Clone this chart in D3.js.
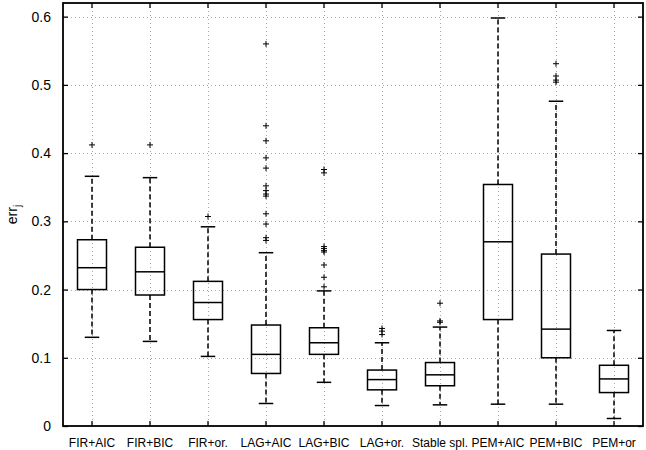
<!DOCTYPE html>
<html>
<head>
<meta charset="utf-8">
<script src="https://cdn.jsdelivr.net/npm/d3@7"></script>
<style>
  body { margin: 0; background: #fff; }
  svg { display: block; font-family: "Liberation Sans", Arial, Helvetica, sans-serif; }
</style>
</head>
<body>
<svg></svg>
<script>
let categories = ['FIR+AIC', 'FIR+BIC', 'FIR+or.', 'LAG+AIC', 'LAG+BIC', 'LAG+or.', 'Stable spl.', 'PEM+AIC', 'PEM+BIC', 'PEM+or'];
let whiskerLow  = [0.130, 0.124, 0.102, 0.033, 0.064, 0.030, 0.031, 0.032, 0.032, 0.011];
let q1          = [0.200, 0.192, 0.156, 0.077, 0.105, 0.053, 0.059, 0.156, 0.100, 0.049];
let medians     = [0.232, 0.226, 0.181, 0.105, 0.122, 0.068, 0.075, 0.270, 0.142, 0.069];
let q3          = [0.273, 0.262, 0.212, 0.148, 0.144, 0.082, 0.093, 0.354, 0.252, 0.089];
let whiskerHigh = [0.366, 0.364, 0.292, 0.254, 0.198, 0.122, 0.145, 0.598, 0.476, 0.140];
let outliers = [
    [0.412],
    [0.412],
    [0.307],
    [0.560, 0.440, 0.418, 0.393, 0.378, 0.352, 0.345, 0.340, 0.337, 0.311, 0.296, 0.276, 0.272],
    [0.376, 0.371, 0.263, 0.260, 0.257, 0.255, 0.236, 0.218, 0.204],
    [0.143, 0.139, 0.134],
    [0.180, 0.154, 0.152],
    [],
    [0.531, 0.513, 0.507, 0.504],
    []
];
let yTicks = [0, 0.1, 0.2, 0.3, 0.4, 0.5, 0.6];

let width = 646;
let height = 450;
let padLeft = 63, padRight = 643, padTop = 3, padBottom = 426;

let data = categories.map((c, i) => ({
    name: c, lo: whiskerLow[i], q1: q1[i], med: medians[i],
    q3: q3[i], hi: whiskerHigh[i], out: outliers[i]
}));

let xScale = d3.scaleBand()
    .domain(categories)
    .range([padLeft, padRight])
    .padding(0);

let yScale = d3.scaleLinear()
    .domain([0, 0.62])
    .range([padBottom, padTop]);

let svg = d3.select('svg')
    .attr('width', width)
    .attr('height', height);

let cx = d => xScale(d) + xScale.bandwidth() / 2;

// dotted grid
let grid = svg.append('g').attr('stroke', '#a8a8a8').attr('stroke-width', 1).attr('stroke-dasharray', '1,3');
grid.selectAll('.gy')
    .data(yTicks.filter(t => t > 0))
    .enter()
    .append('line')
        .attr('x1', padLeft).attr('x2', padRight)
        .attr('y1', d => Math.round(yScale(d)) + 0.5)
        .attr('y2', d => Math.round(yScale(d)) + 0.5);
grid.selectAll('.gx')
    .data(categories)
    .enter()
    .append('line')
        .attr('x1', d => Math.round(cx(d)) + 0.5)
        .attr('x2', d => Math.round(cx(d)) + 0.5)
        .attr('y1', padTop).attr('y2', padBottom);

// axes with inward ticks
let xAxis = d3.axisBottom(xScale).tickSizeInner(-5).tickSizeOuter(0).tickPadding(12);
let yAxis = d3.axisLeft(yScale).tickValues(yTicks).tickFormat(d3.format('')).tickSizeInner(-5).tickSizeOuter(0).tickPadding(12);
let xTop = d3.axisTop(xScale).tickSizeInner(-5).tickSizeOuter(0).tickFormat('');
let yRight = d3.axisRight(yScale).tickValues(yTicks).tickSizeInner(-5).tickSizeOuter(0).tickFormat('');

svg.append('g')
    .attr('transform', `translate(0, ${padBottom})`)
    .call(xAxis)
    .call(g => g.selectAll('text').attr('font-size', 12).attr('fill', '#000'));

svg.append('g')
    .attr('transform', `translate(${padLeft}, 0)`)
    .call(yAxis)
    .call(g => g.selectAll('text').attr('font-size', 14).attr('fill', '#000'));

svg.append('g').attr('transform', `translate(0, ${padTop})`).call(xTop);
svg.append('g').attr('transform', `translate(${padRight}, 0)`).call(yRight);

svg.selectAll('.domain').remove();
svg.selectAll('.tick line').attr('stroke', '#000').attr('stroke-width', 1.3);

svg.append('rect')
    .attr('x', padLeft).attr('y', padTop)
    .attr('width', padRight - padLeft).attr('height', padBottom - padTop)
    .attr('fill', 'none')
    .attr('stroke', '#000')
    .attr('stroke-width', 1.8);

// boxes
let boxW = xScale.bandwidth() * 0.5;
let capW = xScale.bandwidth() * 0.25;
let boxes = svg.selectAll('.box')
    .data(data)
    .enter()
    .append('g')
        .attr('transform', d => `translate(${cx(d.name)}, 0)`);

boxes.append('line')
    .attr('y1', d => yScale(d.q3)).attr('y2', d => yScale(d.hi))
    .attr('stroke', '#000').attr('stroke-width', 1.5).attr('stroke-dasharray', '5,3');
boxes.append('line')
    .attr('y1', d => yScale(d.q1)).attr('y2', d => yScale(d.lo))
    .attr('stroke', '#000').attr('stroke-width', 1.5).attr('stroke-dasharray', '5,3');

boxes.selectAll('.cap')
    .data(d => [d.lo, d.hi])
    .enter()
    .append('line')
        .attr('x1', -capW / 2).attr('x2', capW / 2)
        .attr('y1', d => yScale(d)).attr('y2', d => yScale(d))
        .attr('stroke', '#000').attr('stroke-width', 1.5);

boxes.append('rect')
    .attr('x', -boxW / 2)
    .attr('y', d => yScale(d.q3))
    .attr('width', boxW)
    .attr('height', d => yScale(d.q1) - yScale(d.q3))
    .attr('fill', 'none')
    .attr('stroke', '#000')
    .attr('stroke-width', 1.5);

boxes.append('line')
    .attr('x1', -boxW / 2).attr('x2', boxW / 2)
    .attr('y1', d => yScale(d.med)).attr('y2', d => yScale(d.med))
    .attr('stroke', '#000').attr('stroke-width', 1.5);

// outliers as '+'
boxes.selectAll('.out')
    .data(d => d.out)
    .enter()
    .append('path')
        .attr('d', d => `M-3,${yScale(d)}h6M0,${yScale(d) - 3}v6`)
        .attr('stroke', '#000')
        .attr('stroke-width', 1);

// y label
let ylab = svg.append('text')
    .attr('transform', `translate(17, ${(padTop + padBottom) / 2}) rotate(-90)`)
    .style('text-anchor', 'middle')
    .attr('font-size', 14);
ylab.append('tspan').text('err');
ylab.append('tspan').attr('font-size', 10).attr('dy', 4).text('j');
</script>
</body>
</html>
